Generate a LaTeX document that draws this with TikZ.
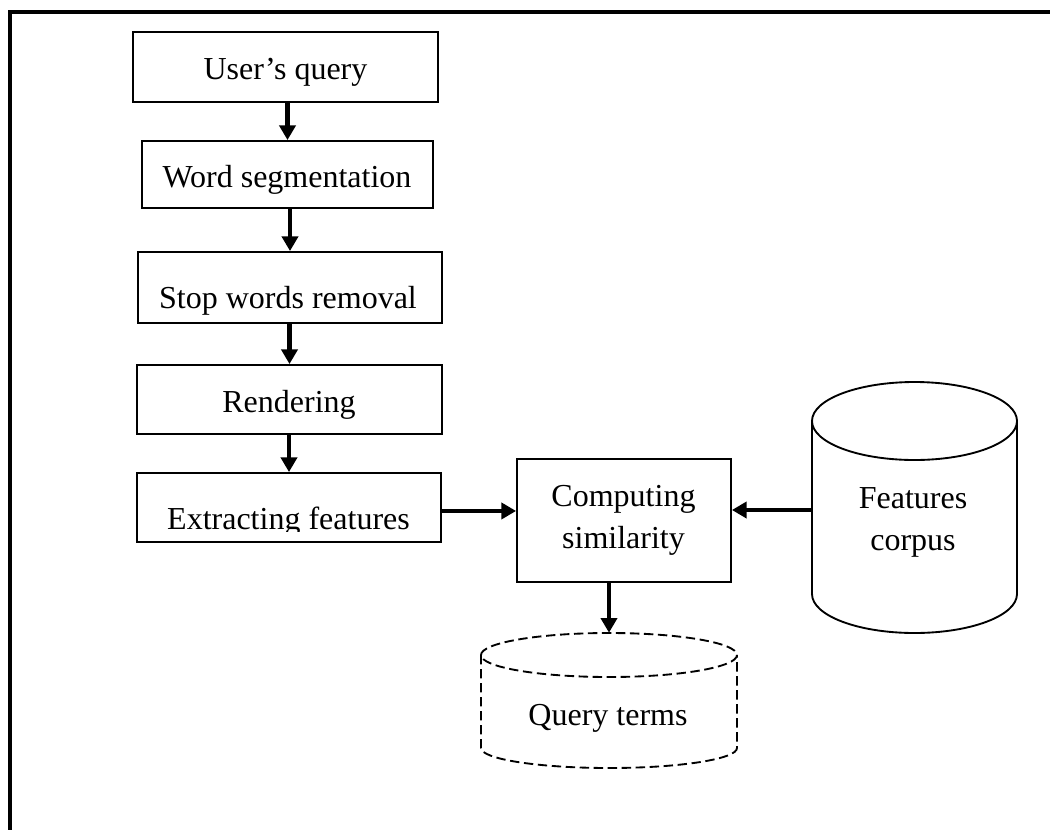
\documentclass[tikz,border=0pt]{standalone}
\usepackage{fontspec}
\setmainfont{Liberation Serif}
\usetikzlibrary{arrows.meta,fit}
\begin{document}
\begin{tikzpicture}[x=0.75pt,y=-0.75pt,
  every node/.style={font=\fontsize{24}{28.8}\selectfont},
  box/.style={draw, line width=1.4pt, inner sep=0pt},
  area/.style={inner sep=0pt},
  txt/.style={anchor=base, inner sep=0pt},
  arr/.style={line width=3.2pt, -{Triangle[length=11pt,width=12pt]}},
  solidline/.style={line width=1.4pt},
  dashline/.style={line width=1.4pt, dash pattern=on 7pt off 3.5pt}]
\clip (0,0) rectangle (1050,829);
\fill[white] (0,0) rectangle (1050,829);

% outer frame (only top and left edges lie inside the page)
\draw[line width=3.4pt] (1060,12) -- (10,12) -- (10,840);

% processing steps
\node[box, fit={(133,32) (438,102)}] (b1) {};
\node[box, fit={(142,141) (433,208)}] (b2) {};
\node[box, fit={(138,252) (442,323)}] (b3) {};
\node[box, fit={(137,365) (442,434)}] (b4) {};
\node[box, fit={(137,473) (441,542)}] (b5) {};
\node[box, fit={(517,459) (731,582)}] (b6) {};

\node[txt] (t1) at (285.5,79) {User’s query};
\node[txt] (t2) at (287,187) {Word segmentation};
\node[txt] (t3) at (288,308) {Stop words removal};
\node[txt] (t4) at (289,412) {Rendering};
\begin{scope}
  \clip (137,473) rectangle (441,531.5);
  \node[txt] (t5) at (288.5,529) {Extracting features};
\end{scope}
\node[txt] (t6a) at (623.5,506) {Computing};
\node[txt] (t6b) at (623.5,548) {similarity};

% features corpus store
\node[area, fit={(812,382) (1017,632)}] (fc) {};
\draw[solidline] (812,421) -- (812,594)
  arc[start angle=180, end angle=0, x radius=102.5, y radius=39] -- (1017,421);
\draw[solidline] (914.5,421) ellipse [x radius=102.5, y radius=39];
\node[txt] (t7a) at (913,508) {Features};
\node[txt] (t7b) at (913,550) {corpus};

% query terms store (dashed)
\node[area, fit={(481,633) (737,768)}] (qt) {};
\draw[dashline] (481,655) -- (481,748)
  arc[start angle=180, end angle=0, x radius=128, y radius=20] -- (737,655);
\draw[dashline] (609,655) ellipse [x radius=128, y radius=22];
\node[txt] (t8) at (608,725) {Query terms};

% connectors
\draw[arr] (b1.south -| b2.north) -- (b2.north);
\draw[arr] (b2.south -| b3.north) -- (b3.north);
\draw[arr] (b3.south -| b4.north) -- (b4.north);
\draw[arr] (b4.south -| b5.north) -- (b5.north);
\coordinate (b5out) at ([yshift=-2.6pt]b5.east);
\draw[arr] (b5out) -- (b5out -| b6.west);
\coordinate (fcin) at ([yshift=-2.25pt]fc.west);
\draw[arr] (fcin) -- (fcin -| b6.east);
\draw[arr] (b6.south -| qt.north) -- (qt.north);
\end{tikzpicture}
\end{document}
